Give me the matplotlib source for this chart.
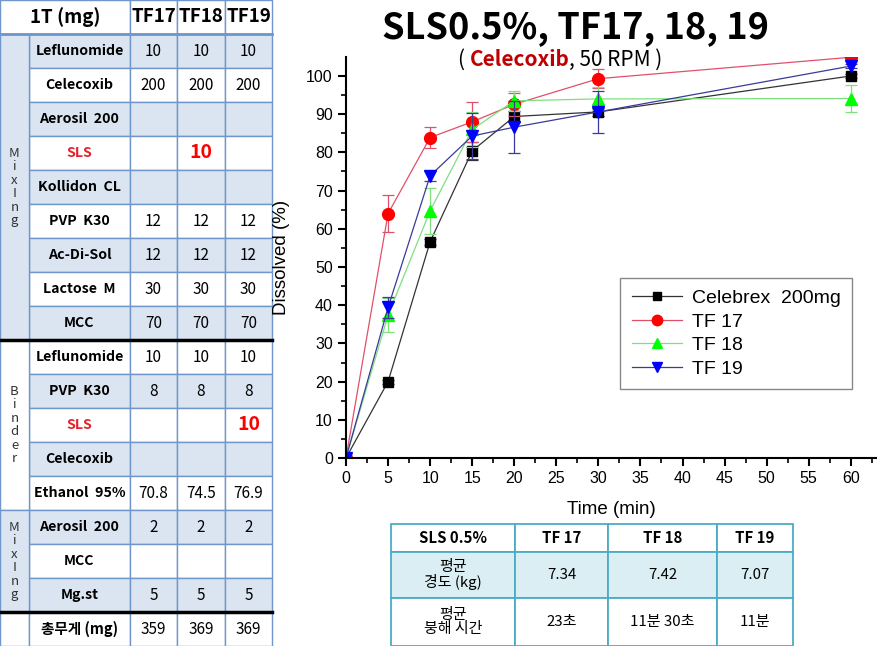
import matplotlib
matplotlib.use("Agg")
import matplotlib.pyplot as plt
from matplotlib.lines import Line2D
from matplotlib.patches import Rectangle

# dissolution data
time = [0, 5, 10, 15, 20, 30, 60]
celebrex = [0, 20.0, 56.6, 80.4, 89.4, 90.6, 100.0]
celebrex_err = [0, 0.5, 0.8, 2.4, 1.5, 1.0, 0.5]
tf17 = [0, 64.0, 83.9, 88.0, 92.6, 99.3, 104.9]
tf17_err = [0, 4.9, 2.7, 5.3, 3.0, 2.5, 0]
tf18 = [0, 37.4, 64.7, 86.0, 93.5, 94.0, 94.1]
tf18_err = [0, 4.4, 6.0, 4.5, 2.7, 3.0, 3.5]
tf19 = [0, 39.4, 73.9, 84.3, 86.6, 90.6, 102.6]
tf19_err = [0, 2.7, 1.3, 6.0, 6.8, 5.4, 0.5]

# formulation table (left)
row_names = ["Leflunomide", "Celecoxib", "Aerosil  200", "SLS", "Kollidon  CL",
             "PVP  K30", "Ac-Di-Sol", "Lactose  M", "MCC",
             "Leflunomide", "PVP  K30", "SLS", "Celecoxib", "Ethanol  95%",
             "Aerosil  200", "MCC", "Mg.st"]
tf17_mg = ["10", "200", "", "", "", "12", "12", "30", "70",
           "10", "8", "", "", "70.8", "2", "", "5"]
tf18_mg = ["10", "200", "", "10", "", "12", "12", "30", "70",
           "10", "8", "", "", "74.5", "2", "", "5"]
tf19_mg = ["10", "200", "", "", "", "12", "12", "30", "70",
           "10", "8", "10", "", "76.9", "2", "", "5"]
total_mg = ["359", "369", "369"]
groups = [("MixIng", 0, 9), ("Binder", 9, 14), ("MixIng", 14, 17)]

# hardness / disintegration table (bottom)
hd_header = ["SLS 0.5%", "TF 17", "TF 18", "TF 19"]
hd_hardness = ["평균\n경도 (kg)", "7.34", "7.42", "7.07"]
hd_disint = ["평균\n붕해 시간", "23초", "11분 30초", "11분"]

KR = ["Noto Sans CJK KR", "DejaVu Sans"]
ARIAL = "Liberation Sans"

W, H = 878, 646
fig = plt.figure(figsize=(W / 100, H / 100), dpi=100)

# ---- overlay axis in pixel units for the tables ----
tb = fig.add_axes([0, 0, 1, 1])
tb.set_xlim(0, W)
tb.set_ylim(H, 0)
tb.axis("off")

blue_fill = "#dbe5f1"
grid_c = "#6f97c9"
cols = [0, 29, 130, 177, 225, 272]
rh = 34
top = 34

def cell(x0, x1, y0, y1, fc):
    tb.add_patch(Rectangle((x0, y0), x1 - x0, y1 - y0, facecolor=fc,
                           edgecolor=grid_c, lw=1))

# header
cell(0, cols[2], 0, top, "white")
for j in range(3):
    cell(cols[2 + j], cols[3 + j], 0, top, "white")
tb.text(cols[2] / 2, top / 2, "1T (mg)", ha="center", va="center",
        fontsize=13.5, fontweight="bold", family=KR)
for j, name in enumerate(["TF17", "TF18", "TF19"]):
    tb.text((cols[2 + j] + cols[3 + j]) / 2, top / 2, name, ha="center",
            va="center", fontsize=13.5, fontweight="bold", family=KR)

values = [tf17_mg, tf18_mg, tf19_mg]
for i, name in enumerate(row_names):
    y0 = top + rh * i
    fc = blue_fill if i % 2 == 0 else "white"
    for c in range(1, 5):
        cell(cols[c], cols[c + 1], y0, y0 + rh, fc)
    red = name == "SLS"
    tb.text((cols[1] + cols[2]) / 2, y0 + rh / 2, name, ha="center",
            va="center", fontsize=10.2, fontweight="bold", family=KR,
            color="#e8202a" if red else "black")
    for j in range(3):
        v = values[j][i]
        tb.text((cols[2 + j] + cols[3 + j]) / 2, y0 + rh / 2, v, ha="center",
                va="center", family=KR,
                fontsize=14 if red else 11,
                fontweight="bold" if red else "normal",
                color="#ff0000" if red else "black")

for label, a, b in groups:
    fc = blue_fill if label == "MixIng" else "white"
    y0 = top + rh * a
    y1 = top + rh * b
    cell(cols[0], cols[1], y0, y1, fc)
    tb.text(cols[1] / 2, (y0 + y1) / 2, "\n".join(label), ha="center",
            va="center", fontsize=9.5, color="#333333", linespacing=1.05,
            family=KR)

yt = top + rh * len(row_names)
cell(cols[0], cols[1], yt, H, "white")
for c in range(1, 5):
    cell(cols[c], cols[c + 1], yt, H, "white")
tb.text((cols[1] + cols[2]) / 2, yt + rh / 2, "총무게 (mg)", ha="center",
        va="center", fontsize=10.5, fontweight="bold", family=KR)
for j in range(3):
    tb.text((cols[2 + j] + cols[3 + j]) / 2, yt + rh / 2, total_mg[j],
            ha="center", va="center", fontsize=11, family=KR)

tb.plot([0, cols[-1]], [top, top], color=grid_c, lw=2)
tb.plot([0, cols[-1]], [top + rh * 9, top + rh * 9], color="black", lw=2.5)
tb.plot([0, cols[-1]], [yt, yt], color="black", lw=2.5)

# bottom table
teal = "#4bacc6"
bx = [391, 515, 608, 717, 793]
by = [524, 552, 598, 646]
rows = [hd_header, hd_hardness, hd_disint]
fills = ["white", "#daeef3", "white"]
for r, row in enumerate(rows):
    for c in range(4):
        tb.add_patch(Rectangle((bx[c], by[r]), bx[c + 1] - bx[c],
                               by[r + 1] - by[r], facecolor=fills[r],
                               edgecolor=teal, lw=1.3))
        tb.text((bx[c] + bx[c + 1]) / 2, (by[r] + by[r + 1]) / 2, row[c],
                ha="center", va="center", fontsize=10.8, family=KR,
                fontweight="bold" if r == 0 else "normal",
                linespacing=1.0)

# ---- dissolution chart ----
ymax = 105.0
ax = fig.add_axes([346 / W, 1 - 458 / H, 530 / W, ymax * 3.82 / H])
ax.set_xlim(0, 63)
ax.set_ylim(0, ymax)

series = [
    ("Celebrex  200mg", celebrex, celebrex_err, "s", "black", "#333333", 7),
    ("TF 17", tf17, tf17_err, "o", "#ff0000", "#e0506a", 8.5),
    ("TF 18", tf18, tf18_err, "^", "#00ff00", "#7ee07e", 8.5),
    ("TF 19", tf19, tf19_err, "v", "#0000ff", "#3a3a9a", 8.5),
]
handles = []
for label, y, e, m, mc, lc, ms in series:
    ax.errorbar(time, y, yerr=e, fmt="none", ecolor=lc, elinewidth=0.9,
                capsize=4, capthick=0.9)
    ax.plot(time, y, color=lc, lw=0.9, marker=m, markersize=ms,
            markerfacecolor=mc, markeredgecolor=mc)
    handles.append(Line2D([], [], color=lc, lw=0.9, marker=m,
                          markersize=ms - 1, markerfacecolor=mc,
                          markeredgecolor=mc, label=label))

ax.spines["top"].set_visible(False)
ax.spines["right"].set_visible(False)
ax.spines["left"].set_linewidth(1.5)
ax.spines["bottom"].set_linewidth(1.5)
ax.set_xticks(range(0, 61, 5))
ax.set_xticks([x + 2.5 for x in range(0, 61, 5)], minor=True)
ax.set_yticks(range(0, 101, 10))
ax.set_yticks(range(5, 105, 10), minor=True)
ax.tick_params(which="major", direction="out", length=6, width=1.5,
               labelsize=11.5)
ax.tick_params(which="minor", direction="out", length=3.5, width=1.2)
for t in ax.get_xticklabels() + ax.get_yticklabels():
    t.set_family(ARIAL)
ax.set_xlabel("Time (min)", fontsize=13.5, family=ARIAL, labelpad=11)
ax.set_ylabel("Dissolved (%)", fontsize=13.5, family=ARIAL, labelpad=12)

leg = fig.legend(handles=handles, loc="upper left",
                 bbox_to_anchor=(620 / W, 1 - 278 / H),
                 prop={"family": ARIAL, "size": 14}, frameon=True,
                 fancybox=False, edgecolor="#888888", framealpha=1,
                 handlelength=2.6, numpoints=1, borderpad=0.6,
                 labelspacing=0.3, handletextpad=0.5, borderaxespad=0)
leg.get_frame().set_linewidth(1.0)

# titles
fig.text(576 / W, 1 - 28 / H, "SLS0.5%, TF17, 18, 19", ha="center",
         va="center", fontsize=26, fontweight="bold", family=KR)

renderer = fig.canvas.get_renderer()
parts = [("( ", "black", "normal"), ("Celecoxib", "#c00000", "bold"),
         (", 50 RPM )", "black", "normal")]
x = 458 / W
for s, c, w in parts:
    t = fig.text(x, 1 - 60 / H, s, ha="left", va="center", fontsize=15,
                 color=c, fontweight=w, family=KR)
    bb = t.get_window_extent(renderer)
    x = bb.x1 / W

fig.savefig("out.png", dpi=100)
